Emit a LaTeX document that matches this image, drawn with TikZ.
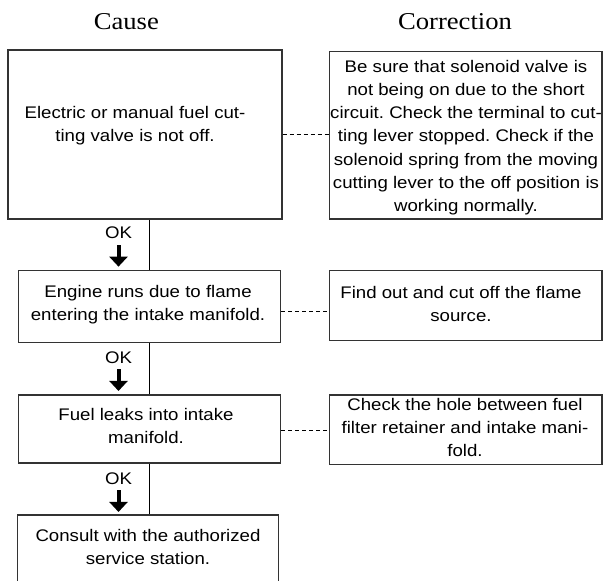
\documentclass[tikz,border=0pt]{standalone}
\usepackage{fontspec}
\setmainfont{Liberation Sans}
\newfontfamily\boxfont{Liberation Sans}[FakeStretch=1.11]
\newfontfamily\headfont{Liberation Serif}[FakeStretch=1.1]
\usetikzlibrary{arrows.meta}
\frenchspacing
\tikzset{
    % boxes of both columns
    casebox/.style={
        draw=black!80,
        line width=1.2pt,
        rectangle,
        inner sep=0pt
    },
    boxtext/.style={
        font=\boxfont\fontsize{16.8}{23.3}\selectfont,
        align=center,
        inner sep=0pt
    },
    headtext/.style={
        font=\headfont\fontsize{24.2}{28}\selectfont,
        inner sep=0pt
    },
    dashlink/.style={
        line width=1pt,
        black,
        dash pattern=on 4pt off 3pt
    },
    flowline/.style={
        line width=1pt,
        black
    },
    okarrow/.style={
        line width=4pt,
        black,
        -{Triangle[length=10pt, width=18pt]}
    }
}

\begin{document}
\begin{tikzpicture}[x=1pt,y=-1pt]
    \useasboundingbox (0,0) rectangle (603,581);

    % ===================== headings =====================
    \node[headtext, anchor=base] (causehead) at (126.3,29.3) {Cause};
    \node[headtext, anchor=base] (corrhead) at (455,29.3) {Correction};

    % ===================== left column (Cause) =====================
    \node[casebox, minimum width=274pt, minimum height=169pt] (cause1) at (145,134.5) {};
    \node[casebox, minimum width=262pt, minimum height=71.8pt] (cause2) at (149.4,306.6) {};
    \node[casebox, minimum width=262pt, minimum height=68pt] (cause3) at (149.4,429) {};
    \node[casebox, minimum width=261.5pt, minimum height=85pt] (cause4) at (148,557.5) {};

    \node[boxtext] (cause1txt) at (135,126) {Electric or manual fuel cut-\\ting valve is not off.};
    \node[boxtext] (cause2txt) at (148,305) {Engine runs due to flame\\entering the intake manifold.};
    \node[boxtext] (cause3txt) at (146,426) {Fuel leaks into intake\\manifold.};
    \node[boxtext] (cause4txt) at (148,547) {Consult with the authorized\\service station.};

    % ===================== right column (Correction) =====================
    \node[casebox, minimum width=272.7pt, minimum height=167.3pt] (corr1) at (465.6,135.3) {};
    \node[casebox, minimum width=272.7pt, minimum height=70pt] (corr2) at (465.6,305.7) {};
    \node[casebox, minimum width=272.7pt, minimum height=69.7pt] (corr3) at (465.6,429.8) {};

    \node[boxtext] (corr1txt) at (466,137.6) {Be sure that solenoid valve is\\not being on due to the short\\circuit. Check the terminal to cut-\\ting lever stopped. Check if the\\solenoid spring from the moving\\cutting lever to the off position is\\working normally.};
    \node[boxtext] (corr2txt) at (461,304) {Find out and cut off the flame\\source.};
    \node[boxtext] (corr3txt) at (465,427.4) {Check the hole between fuel\\filter retainer and intake mani-\\fold.};

    % dotted links cause -> correction
    \draw[dashlink] (cause1.east) -- (cause1.east -| corr1.west);
    \draw[dashlink] ([yshift=-5pt]cause2.east) -- ([yshift=-5pt]cause2.east -| corr2.west);
    \draw[dashlink] ([yshift=-1pt]cause3.east) -- ([yshift=-1pt]cause3.east -| corr3.west);

    % ===================== flow between causes =====================
    \draw[flowline] (cause2.north |- cause1.south) -- (cause2.north);
    \draw[flowline] (cause2.south) -- (cause3.north);
    \draw[flowline] (cause3.south) -- (cause3.south |- cause4.north);

    \node[boxtext] (ok1) at (118.5,233) {OK};
    \node[boxtext] (ok2) at (118.5,357.3) {OK};
    \node[boxtext] (ok3) at (118.5,478.3) {OK};

    \draw[okarrow] ([yshift=-6pt]ok1.south) -- ([yshift=-27.5pt]ok1.south);
    \draw[okarrow] ([yshift=-6pt]ok2.south) -- ([yshift=-27.5pt]ok2.south);
    \draw[okarrow] ([yshift=-6pt]ok3.south) -- ([yshift=-27.5pt]ok3.south);
\end{tikzpicture}
\end{document}
